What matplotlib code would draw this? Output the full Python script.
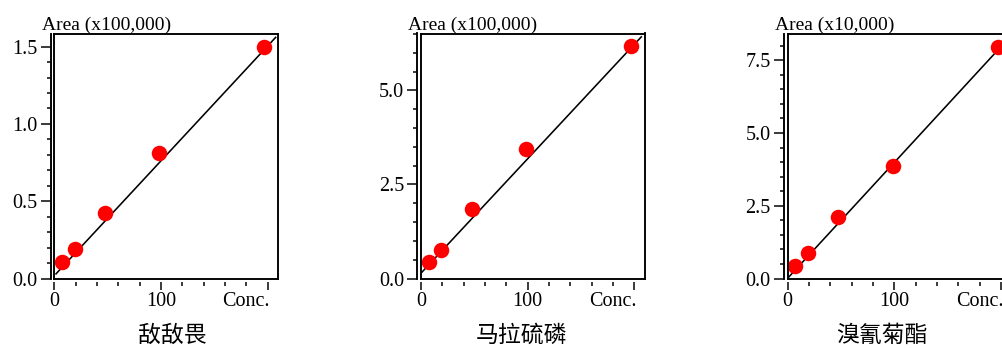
import matplotlib
matplotlib.use('Agg')
import matplotlib.pyplot as plt
from matplotlib.ticker import MultipleLocator, FixedLocator, FormatStrFormatter

# ---------------- data ----------------
conc = [7.2, 19.0, 47.4, 98.5, 197.0]
names = ['敌敌畏', '马拉硫磷', '溴氰菊酯']
y_units = ['Area (x100,000)', 'Area (x100,000)', 'Area (x10,000)']
area_ddv = [0.108, 0.194, 0.425, 0.814, 1.50]
area_mls = [0.44, 0.75, 1.86, 3.45, 6.18]
area_xq = [0.42, 0.89, 2.12, 3.86, 7.96]
fit_x_ddv = [1.6, 207.5]
fit_y_ddv = [0.03, 1.56]
fit_x_mls = [0.6, 206.5]
fit_y_mls = [0.16, 6.42]
fit_x_xq = [0.5, 197.5]
fit_y_xq = [0.03, 7.87]
x_major_ticks = [0, 100, 200]
x_tick_labels = ['0', '100', '']
x_label_text = 'Conc.'
x_label_pos = 180
y_max = [1.58, 6.51, 8.42]
y_major = [0.5, 2.5, 2.5]
y_minor = [0.1, 0.5, 0.5]

areas = [area_ddv, area_mls, area_xq]
fits = [(fit_x_ddv, fit_y_ddv), (fit_x_mls, fit_y_mls), (fit_x_xq, fit_y_xq)]

# ---------------- layout ----------------
W, H, DPI = 1002, 349, 100
PT = 72.0 / DPI  # points per pixel
lefts = [54.3, 421.0, 787.7]
tops = [34.3, 33.5, 33.5]
bottom_px = 278.5
width_px = 224.0
name_pos = [(172, 335), (521.5, 335), (881.5, 335)]

serif = ['Liberation Serif', 'DejaVu Serif']
cjk = ['Noto Sans CJK SC', 'DejaVu Sans']

fig = plt.figure(figsize=(W / DPI, H / DPI), dpi=DPI)

for i in range(3):
    l, t = lefts[i], tops[i]
    ax = fig.add_axes([l / W, (H - bottom_px) / H, width_px / W, (bottom_px - t) / H])
    ax.set_xlim(0, 210)
    ax.set_ylim(0, y_max[i])

    fx, fy = fits[i]
    ax.plot(fx, fy, color='black', lw=1.6 * PT, zorder=2)
    ax.plot(conc, areas[i], 'o', color='#ff0000', markersize=15.5 * PT, mec='none', zorder=3, clip_on=False)

    # spines
    lw_sp = 1.9 * PT
    for s in ['top', 'right']:
        ax.spines[s].set_linewidth(lw_sp)
    ax.spines['left'].set_linewidth(lw_sp)
    ax.spines['left'].set_position(('outward', 3.6 * PT))
    ax.spines['bottom'].set_visible(False)
    ax.spines['bottom'].set_position(('outward', 3 * PT))
    ax.axvline(0, color='black', lw=lw_sp, clip_on=False, zorder=4)
    ax.axhline(0, color='black', lw=lw_sp, clip_on=False, zorder=4)

    # y ticks
    ax.yaxis.set_major_locator(MultipleLocator(y_major[i]))
    ax.yaxis.set_minor_locator(MultipleLocator(y_minor[i]))
    ax.yaxis.set_major_formatter(FormatStrFormatter('%.1f'))
    ax.tick_params(axis='y', which='major', length=10.5 * PT, width=1.5 * PT, pad=3 * PT,
                   direction='out', labelsize=14.5)
    ax.tick_params(axis='y', which='minor', length=4 * PT, width=1.5 * PT, direction='out')

    # x ticks
    ax.xaxis.set_major_locator(FixedLocator(x_major_ticks))
    ax.set_xticklabels(x_tick_labels)
    ax.xaxis.set_minor_locator(MultipleLocator(20))
    ax.tick_params(axis='x', which='major', length=8 * PT, width=1.5 * PT, pad=3 * PT,
                   direction='out', labelsize=14.5)
    ax.tick_params(axis='x', which='minor', length=4 * PT, width=1.5 * PT, direction='out')
    for lab in ax.get_xticklabels() + ax.get_yticklabels():
        lab.set_family(serif)

    ax.annotate(x_label_text, xy=(x_label_pos, 0), xycoords=('data', 'axes fraction'),
                xytext=(0, -14 * PT), textcoords='offset points', ha='center', va='top',
                fontsize=14.5, family=serif)
    ax.annotate(y_units[i], xy=(0, 1), xycoords='axes fraction',
                xytext=(-12.5 * PT, 4 * PT), textcoords='offset points', ha='left',
                va='baseline', fontsize=14, family=serif)

    nx, ny = name_pos[i]
    fig.text(nx / W, 1 - ny / H, names[i], ha='center', va='center', fontsize=16.5, family=cjk)

fig.savefig('out.png', dpi=DPI)
